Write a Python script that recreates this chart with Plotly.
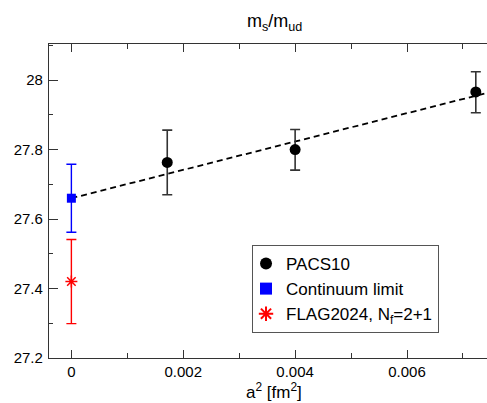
import plotly.graph_objects as go

# Data
pacs_x = [0.001714, 0.0040, 0.00723]
pacs_y = [27.763, 27.800, 27.966]
pacs_err_plus = [0.093, 0.058, 0.058]
pacs_err_minus = [0.093, 0.059, 0.060]

cont_x = [0.0]
cont_y = [27.660]
cont_err = [0.098]

flag_x = [0.0]
flag_y = [27.420]
flag_err = [0.121]

fit_x = [0.0, 0.0075]
fit_y = [27.660, 27.966]

xticks = [0, 0.002, 0.004, 0.006]
xticklabels = ["0", "0.002", "0.004", "0.006"]
yticks = [27.2, 27.4, 27.6, 27.8, 28.0]
yticklabels = ["27.2", "27.4", "27.6", "27.8", "28"]

FONT = "Liberation Sans, Arial, Helvetica, sans-serif"

fig = go.Figure()

fig.add_trace(go.Scatter(
    x=fit_x, y=fit_y, mode="lines",
    line=dict(color="black", width=1.8, dash="6px,4px"),
    showlegend=False, hoverinfo="skip"))

fig.add_trace(go.Scatter(
    x=pacs_x, y=pacs_y, mode="markers", name="PACS10",
    marker=dict(symbol="circle", size=11, color="black"),
    cliponaxis=False,
    error_y=dict(type="data", symmetric=False, array=pacs_err_plus,
                 arrayminus=pacs_err_minus, color="#333333", thickness=1.6, width=5)))

fig.add_trace(go.Scatter(
    x=cont_x, y=cont_y, mode="markers", name="Continuum limit",
    marker=dict(symbol="square", size=9, color="#0000ff"),
    cliponaxis=False,
    error_y=dict(type="data", array=cont_err, color="#0000ff", thickness=1.4, width=5)))

fig.add_trace(go.Scatter(
    x=flag_x, y=flag_y, mode="markers", name="FLAG2024, N<sub>f</sub>=2+1",
    marker=dict(symbol="asterisk-open", size=10, color="#ff0000",
                line=dict(color="#ff0000", width=1.5)),
    cliponaxis=False,
    error_y=dict(type="data", array=flag_err, color="#ff0000", thickness=1.4, width=5)))

fig.update_layout(
    width=487, height=403,
    margin=dict(l=49, r=0, t=44, b=45, autoexpand=False),
    paper_bgcolor="white", plot_bgcolor="white",
    font=dict(family=FONT, size=15, color="black"),
    showlegend=True,
    legend=dict(x=0.4635, y=0.36, xanchor="left", yanchor="top",
                bordercolor="#555555", borderwidth=1, bgcolor="white",
                font=dict(family=FONT, size=17, color="black"),
                indentation=-7,
                tracegroupgap=0, itemsizing="constant"),
    annotations=[
        dict(text="m<sub>s</sub>/m<sub>ud</sub>", x=0.514, y=1.0,
             xref="paper", yref="paper", showarrow=False,
             xanchor="center", yanchor="bottom", yshift=8,
             font=dict(family=FONT, size=18, color="black")),
        dict(text="a<sup>2</sup> [fm<sup>2</sup>]", x=0.514, y=0.0,
             xref="paper", yref="paper", showarrow=False,
             xanchor="center", yanchor="top", yshift=-20,
             font=dict(family=FONT, size=17, color="black")),
    ],
)

fig.update_xaxes(
    range=[-0.0004, 0.00743],
    tickvals=xticks, ticktext=xticklabels,
    ticks="inside", ticklen=8, tickwidth=1, tickcolor="#333333",
    minor=dict(dtick=0.001, tick0=0, ticks="inside", ticklen=5, tickcolor="#333333", showgrid=False),
    showline=True, linecolor="#333333", linewidth=1.2, mirror="ticks",
    showgrid=False, zeroline=False, automargin=False,
    tickfont=dict(family=FONT, size=15),
)
fig.update_yaxes(
    range=[27.2, 28.104],
    tickvals=yticks, ticktext=yticklabels,
    ticks="inside", ticklen=9, tickwidth=1, tickcolor="#333333",
    minor=dict(dtick=0.1, tick0=27.2, ticks="inside", ticklen=4, tickcolor="#333333", showgrid=False),
    showline=True, linecolor="#333333", linewidth=1.2, mirror=False,
    showgrid=False, zeroline=False, automargin=False,
    tickfont=dict(family=FONT, size=15),
    ticklabelstandoff=2,
)

fig.write_html("out.html",
               config={"displayModeBar": False},
               post_script="document.body.style.margin='0px';document.body.style.overflow='hidden';")
